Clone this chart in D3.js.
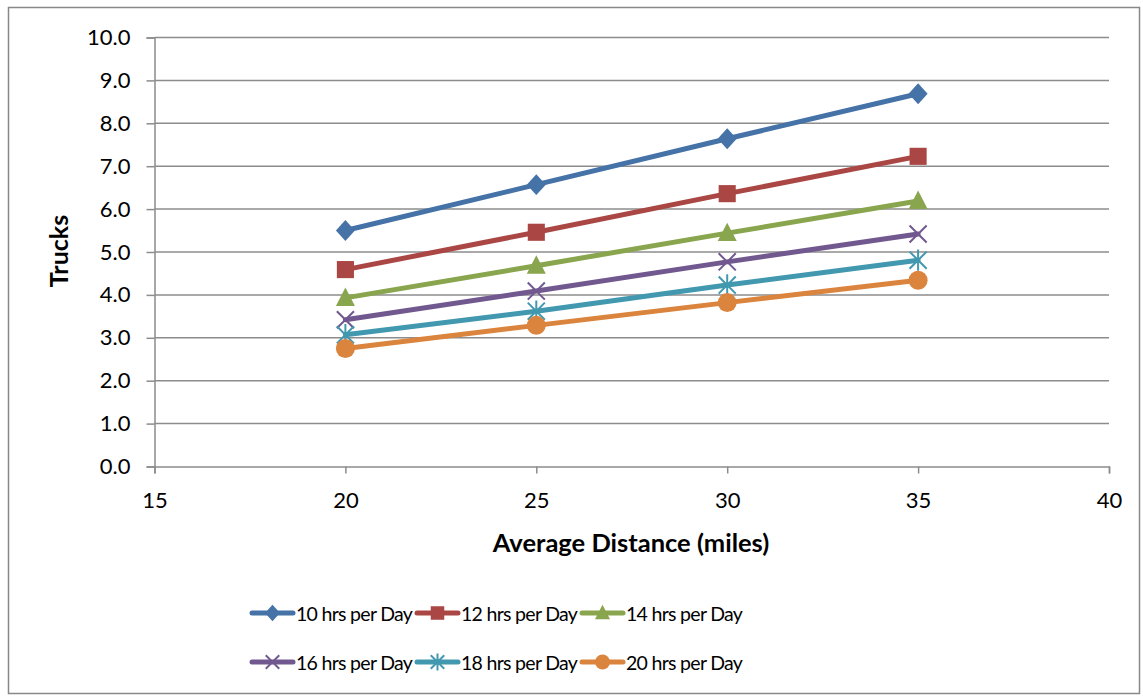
<!DOCTYPE html>
<html><head><meta charset="utf-8">
<script src="https://cdn.jsdelivr.net/npm/d3@7"></script>
<style>body{margin:0;background:#fff;}svg{display:block;font-family:Lato,"Liberation Sans",sans-serif;}</style>
</head><body><svg id="c" width="1143" height="696"></svg>
<script>
const xValues = [20, 25, 30, 35];
const seriesNames = ["10 hrs per Day","12 hrs per Day","14 hrs per Day","16 hrs per Day","18 hrs per Day","20 hrs per Day"];
const s10 = [5.50, 6.57, 7.64, 8.69];
const s12 = [4.59, 5.46, 6.36, 7.23];
const s14 = [3.93, 4.68, 5.44, 6.19];
const s16 = [3.42, 4.09, 4.77, 5.42];
const s18 = [3.07, 3.62, 4.23, 4.81];
const s20 = [2.75, 3.29, 3.82, 4.34];
const yTicks = [0,1,2,3,4,5,6,7,8,9,10];
const xTicks = [15,20,25,30,35,40];
const colors = ["#4572A7","#AA4643","#89A54E","#71588F","#4198AF","#DB843D"];
const markers = ["diamond","square","triangle","x","star","circle"];
const allSeries = [s10,s12,s14,s16,s18,s20];

const svg = d3.select("#c");
svg.append("rect").attr("x",8.5).attr("y",7.5).attr("width",1131).attr("height",686)
  .attr("fill","#fff").attr("stroke","#888").attr("stroke-width",1.5);

const x = d3.scaleLinear().domain([15,40]).range([154.5,1109]);
const y = d3.scaleLinear().domain([0,10]).range([466.5,37.5]);

const g = svg.append("g");
g.selectAll("line.grid").data(yTicks.slice(1)).join("line")
  .attr("x1",x(15)).attr("x2",x(40)).attr("y1",d=>y(d)).attr("y2",d=>y(d))
  .attr("stroke","#8c8c8c").attr("stroke-width",1.5);

const yAxis = g.append("g").attr("transform",`translate(${x(15)},0)`)
  .call(d3.axisLeft(y).tickValues(yTicks).tickFormat(d3.format(".1f")).tickSize(8).tickPadding(16));
const xAxis = g.append("g").attr("transform",`translate(0,${y(0)})`)
  .call(d3.axisBottom(x).tickValues(xTicks).tickSize(7).tickPadding(19));
[yAxis,xAxis].forEach(a=>{
  a.attr("font-size",null).attr("font-family",null);
  a.select(".domain").attr("stroke","#8c8c8c").attr("stroke-width",1.5);
  a.selectAll(".tick line").attr("stroke","#8c8c8c").attr("stroke-width",1.5);
  a.selectAll("text").style("font-size","22px").attr("fill","#000");
});

svg.append("text").attr("transform","translate(68,251) rotate(-90)").attr("text-anchor","middle")
  .attr("font-weight","bold").style("font-size","25px").text("Trucks");
svg.append("text").attr("x",631).attr("y",552).attr("text-anchor","middle")
  .attr("font-weight","bold").style("font-size","25.5px").text("Average Distance (miles)");

function drawMarker(sel, type, color, s){
  if(type==="diamond"){
    sel.append("path").attr("d",`M0,${-s*0.55}L${s*0.5},0L0,${s*0.55}L${-s*0.5},0Z`).attr("fill",color);
  } else if(type==="square"){
    sel.append("rect").attr("x",-s*0.45).attr("y",-s*0.45).attr("width",s*0.9).attr("height",s*0.9).attr("fill",color);
  } else if(type==="triangle"){
    sel.append("path").attr("d",`M0,${-s*0.55}L${s*0.5},${s*0.42}L${-s*0.5},${s*0.42}Z`).attr("fill",color);
  } else if(type==="x"){
    const r=s*0.45;
    sel.append("path").attr("d",`M${-r},${-r}L${r},${r}M${-r},${r}L${r},${-r}`).attr("stroke",color).attr("stroke-width",2).attr("fill","none");
  } else if(type==="star"){
    const r=s*0.45;
    sel.append("path").attr("d",`M${-r},${-r}L${r},${r}M${-r},${r}L${r},${-r}M0,${-r*1.25}L0,${r*1.25}`).attr("stroke",color).attr("stroke-width",2).attr("fill","none");
  } else {
    sel.append("circle").attr("r",s*0.5).attr("fill",color);
  }
}

const line = d3.line().x((d,i)=>x(xValues[i])).y(d=>y(d));
allSeries.forEach((vals,k)=>{
  g.append("path").datum(vals).attr("d",line).attr("fill","none")
    .attr("stroke",colors[k]).attr("stroke-width",5).attr("stroke-linejoin","round").attr("stroke-linecap","round");
  vals.forEach((v,i)=>{
    const m = g.append("g").attr("transform",`translate(${x(xValues[i])},${y(v)})`);
    drawMarker(m, markers[k], colors[k], 19);
  });
});

const legX = [252, 417, 582], legY = [613, 662];
seriesNames.forEach((name,k)=>{
  const lx = legX[k%3], ly = legY[Math.floor(k/3)];
  const lg = svg.append("g").attr("transform",`translate(${lx},${ly})`);
  lg.append("line").attr("x1",0).attr("x2",41).attr("y1",0).attr("y2",0)
    .attr("stroke",colors[k]).attr("stroke-width",5).attr("stroke-linecap","round");
  const m = lg.append("g").attr("transform","translate(20.5,0)");
  drawMarker(m, markers[k], colors[k], 15);
  lg.append("text").attr("x",44).attr("y",8).style("font-size","19.5px").style("letter-spacing","-0.7px").text(name);
});
</script></body></html>
